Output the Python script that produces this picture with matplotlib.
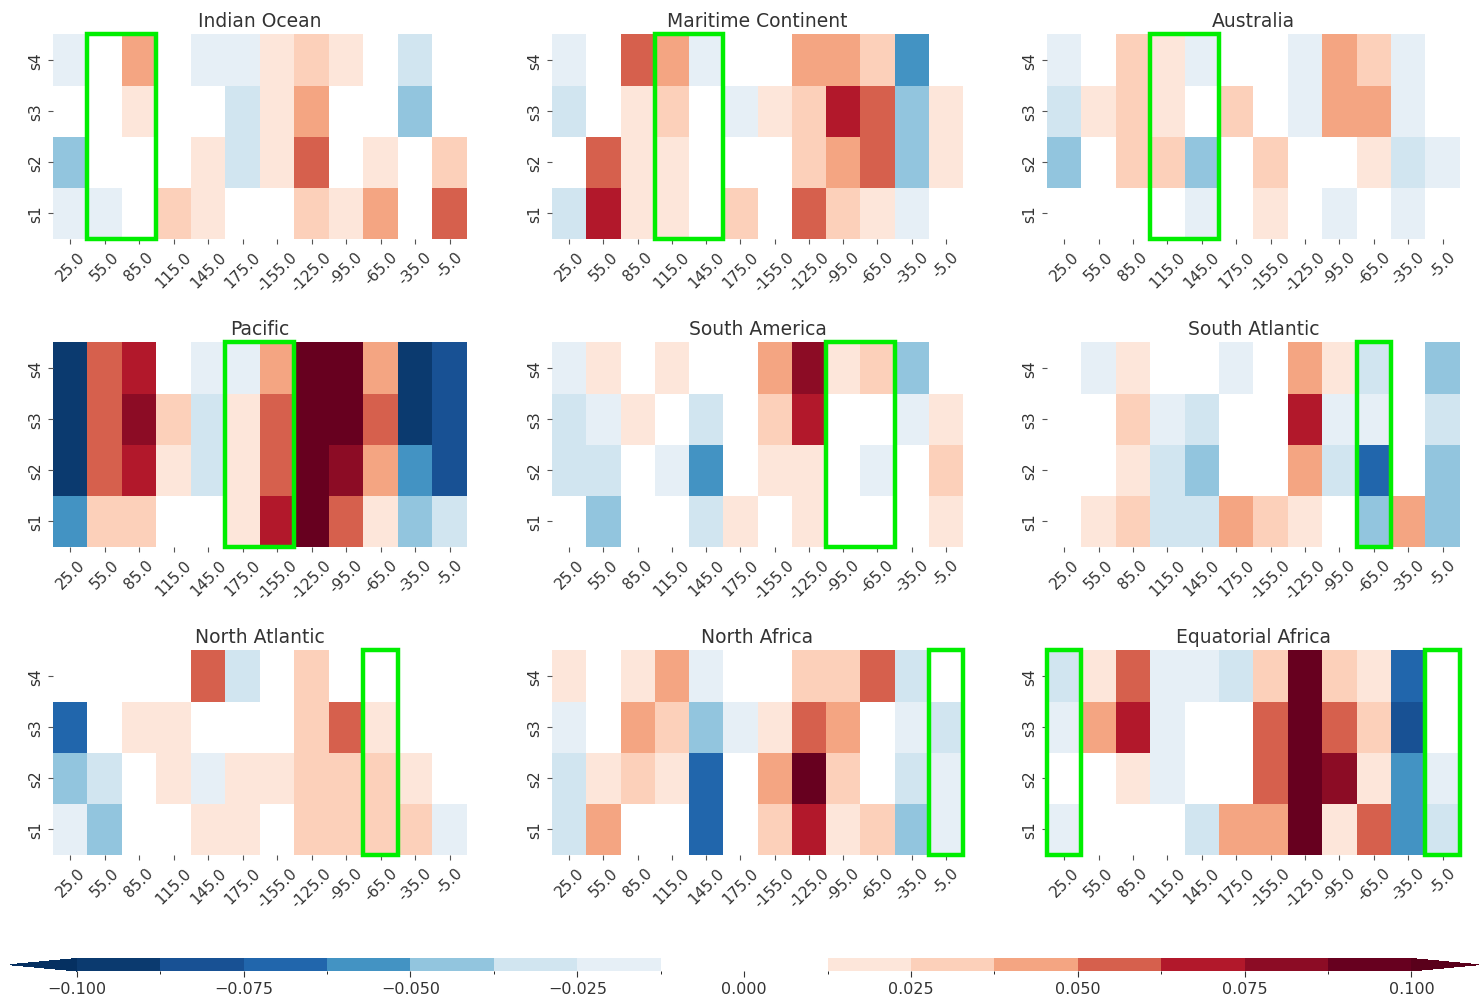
import numpy as np
import matplotlib
matplotlib.use("Agg")
import matplotlib.pyplot as plt
from matplotlib.colors import ListedColormap, BoundaryNorm
from matplotlib.patches import Rectangle
from matplotlib.cm import ScalarMappable

# longitudes (column labels) and seasons (row labels, top to bottom)
lons = ["25.0", "55.0", "85.0", "115.0", "145.0", "175.0",
        "-155.0", "-125.0", "-95.0", "-65.0", "-35.0", "-5.0"]
seasons = ["s4", "s3", "s2", "s1"]

# values, rows = s4, s3, s2, s1
indian_ocean = [
    [-0.019, 0.0, 0.044, 0.0, -0.019, -0.019, 0.019, 0.031, 0.019, 0.0, -0.031, 0.0],
    [0.0, 0.0, 0.019, 0.0, 0.0, -0.031, 0.019, 0.044, 0.0, 0.0, -0.044, 0.0],
    [-0.044, 0.0, 0.0, 0.0, 0.019, -0.031, 0.019, 0.056, 0.0, 0.019, 0.0, 0.031],
    [-0.019, -0.019, 0.0, 0.031, 0.019, 0.0, 0.0, 0.031, 0.019, 0.044, 0.0, 0.056],
]
maritime_continent = [
    [-0.019, 0.0, 0.056, 0.044, -0.019, 0.0, 0.0, 0.044, 0.044, 0.031, -0.056, 0.0],
    [-0.031, 0.0, 0.019, 0.031, 0.0, -0.019, 0.019, 0.031, 0.069, 0.056, -0.044, 0.019],
    [0.0, 0.056, 0.019, 0.019, 0.0, 0.0, 0.0, 0.031, 0.044, 0.056, -0.044, 0.019],
    [-0.031, 0.069, 0.019, 0.019, 0.0, 0.031, 0.0, 0.056, 0.031, 0.019, -0.019, 0.0],
]
australia = [
    [-0.019, 0.0, 0.031, 0.019, -0.019, 0.0, 0.0, -0.019, 0.044, 0.031, -0.019, 0.0],
    [-0.031, 0.019, 0.031, 0.019, 0.0, 0.031, 0.0, -0.019, 0.044, 0.044, -0.019, 0.0],
    [-0.044, 0.0, 0.031, 0.031, -0.044, 0.0, 0.031, 0.0, 0.0, 0.019, -0.031, -0.019],
    [0.0, 0.0, 0.0, 0.0, -0.019, 0.0, 0.019, 0.0, -0.019, 0.0, -0.019, 0.0],
]
pacific = [
    [-0.095, 0.056, 0.069, 0.0, -0.019, -0.019, 0.044, 0.095, 0.095, 0.044, -0.095, -0.081],
    [-0.095, 0.056, 0.081, 0.031, -0.031, 0.019, 0.056, 0.095, 0.095, 0.056, -0.095, -0.081],
    [-0.095, 0.056, 0.069, 0.019, -0.031, 0.019, 0.056, 0.095, 0.081, 0.044, -0.056, -0.081],
    [-0.056, 0.031, 0.031, 0.0, 0.0, 0.019, 0.069, 0.095, 0.056, 0.019, -0.044, -0.031],
]
south_america = [
    [-0.019, 0.019, 0.0, 0.019, 0.0, 0.0, 0.044, 0.081, 0.019, 0.031, -0.044, 0.0],
    [-0.031, -0.019, 0.019, 0.0, -0.031, 0.0, 0.031, 0.069, 0.0, 0.0, -0.019, 0.019],
    [-0.031, -0.031, 0.0, -0.019, -0.056, 0.0, 0.019, 0.019, 0.0, -0.019, 0.0, 0.031],
    [0.0, -0.044, 0.0, 0.0, -0.031, 0.019, 0.0, 0.019, 0.0, 0.0, 0.0, 0.019],
]
south_atlantic = [
    [0.0, -0.019, 0.019, 0.0, 0.0, -0.019, 0.0, 0.044, 0.019, -0.031, 0.0, -0.044],
    [0.0, 0.0, 0.031, -0.019, -0.031, 0.0, 0.0, 0.069, -0.019, -0.019, 0.0, -0.031],
    [0.0, 0.0, 0.019, -0.031, -0.044, 0.0, 0.0, 0.044, -0.031, -0.069, 0.0, -0.044],
    [0.0, 0.019, 0.031, -0.031, -0.031, 0.044, 0.031, 0.019, 0.0, -0.044, 0.044, -0.044],
]
north_atlantic = [
    [0.0, 0.0, 0.0, 0.0, 0.056, -0.031, 0.0, 0.031, 0.0, 0.0, 0.0, 0.0],
    [-0.069, 0.0, 0.019, 0.019, 0.0, 0.0, 0.0, 0.031, 0.056, 0.019, 0.0, 0.0],
    [-0.044, -0.031, 0.0, 0.019, -0.019, 0.019, 0.019, 0.031, 0.031, 0.031, 0.019, 0.0],
    [-0.019, -0.044, 0.0, 0.0, 0.019, 0.019, 0.0, 0.031, 0.031, 0.031, 0.031, -0.019],
]
north_africa = [
    [0.019, 0.0, 0.019, 0.044, -0.019, 0.0, 0.0, 0.031, 0.031, 0.056, -0.031, 0.0],
    [-0.019, 0.0, 0.044, 0.031, -0.044, -0.019, 0.019, 0.056, 0.044, 0.0, -0.019, -0.031],
    [-0.031, 0.019, 0.031, 0.019, -0.069, 0.0, 0.044, 0.095, 0.031, 0.0, -0.031, -0.019],
    [-0.031, 0.044, 0.0, 0.0, -0.069, 0.0, 0.031, 0.069, 0.019, 0.031, -0.044, -0.019],
]
equatorial_africa = [
    [-0.031, 0.019, 0.056, -0.019, -0.019, -0.031, 0.031, 0.095, 0.031, 0.019, -0.069, 0.0],
    [-0.019, 0.044, 0.069, -0.019, 0.0, 0.0, 0.056, 0.095, 0.056, 0.031, -0.081, 0.0],
    [0.0, 0.0, 0.019, -0.019, 0.0, 0.0, 0.056, 0.095, 0.081, 0.019, -0.056, -0.019],
    [-0.019, 0.0, 0.0, 0.0, -0.031, 0.044, 0.044, 0.095, 0.019, 0.056, -0.056, -0.031],
]

titles = ["Indian Ocean", "Maritime Continent", "Australia",
          "Pacific", "South America", "South Atlantic",
          "North Atlantic", "North Africa", "Equatorial Africa"]
panels = [indian_ocean, maritime_continent, australia,
          pacific, south_america, south_atlantic,
          north_atlantic, north_africa, equatorial_africa]
# highlighted column ranges (first column index, number of columns)
boxes = [[(1, 2)], [(3, 2)], [(3, 2)],
         [(5, 2)], [(8, 2)], [(9, 1)],
         [(9, 1)], [(11, 1)], [(0, 1), (11, 1)]]

# discrete RdBu_r style colormap, white around zero
levels = np.arange(-0.1, 0.1001, 0.0125)
colors = ["#0b3a6f", "#185194", "#2166ac", "#4393c3", "#92c5de", "#d1e5f0", "#e6eff6",
          "#ffffff", "#ffffff",
          "#fde6da", "#fcd0ba", "#f4a582", "#d6604d", "#b2182b", "#8c0c25", "#67001f"]
cmap = ListedColormap(colors)
cmap.set_under("#053061")
cmap.set_over("#5a001b")
norm = BoundaryNorm(levels, cmap.N)

fig = plt.figure(figsize=(14.8, 10.03), dpi=100)
lefts = [0.0358, 0.373, 0.7074]
widths = [0.2797, 0.2777, 0.279]
bottoms = [0.7607, 0.4536, 0.1466]
text_col = "#333333"

for i, (data, title) in enumerate(zip(panels, titles)):
    r, c = divmod(i, 3)
    ax = fig.add_axes([lefts[c], bottoms[r], widths[c], 0.204])
    ax.pcolormesh(np.array(data), cmap=cmap, norm=norm)
    ax.set_xlim(0, len(lons))
    ax.set_ylim(len(seasons), 0)
    ax.set_xticks(np.arange(len(lons)) + 0.5)
    ax.set_xticklabels(lons, rotation=45, fontsize=11, color=text_col)
    ax.set_yticks(np.arange(len(seasons)) + 0.5)
    ax.set_yticklabels(seasons, rotation=90, va="center", fontsize=11, color=text_col)
    ax.tick_params(length=3.5, color="#555555")
    for s in ax.spines.values():
        s.set_visible(False)
    ax.set_title(title, fontsize=13.5, color=text_col, pad=6)
    for start, n in boxes[i]:
        ax.add_patch(Rectangle((start, 0), n, len(seasons), fill=False,
                               edgecolor="#00ee00", lw=3.2, clip_on=False, zorder=5))

# colorbar spans the whole width, the extend triangles sit inside this box
cax = fig.add_axes([0.0068, 0.0309, 0.992, 0.0125])
cb = fig.colorbar(ScalarMappable(norm=norm, cmap=cmap), cax=cax, orientation="horizontal",
                  extend="both", ticks=np.arange(-0.1, 0.1001, 0.025))
cb.outline.set_visible(False)
cb.ax.tick_params(labelsize=11.5, colors=text_col, length=4)

plt.savefig("out.png", dpi=100)
